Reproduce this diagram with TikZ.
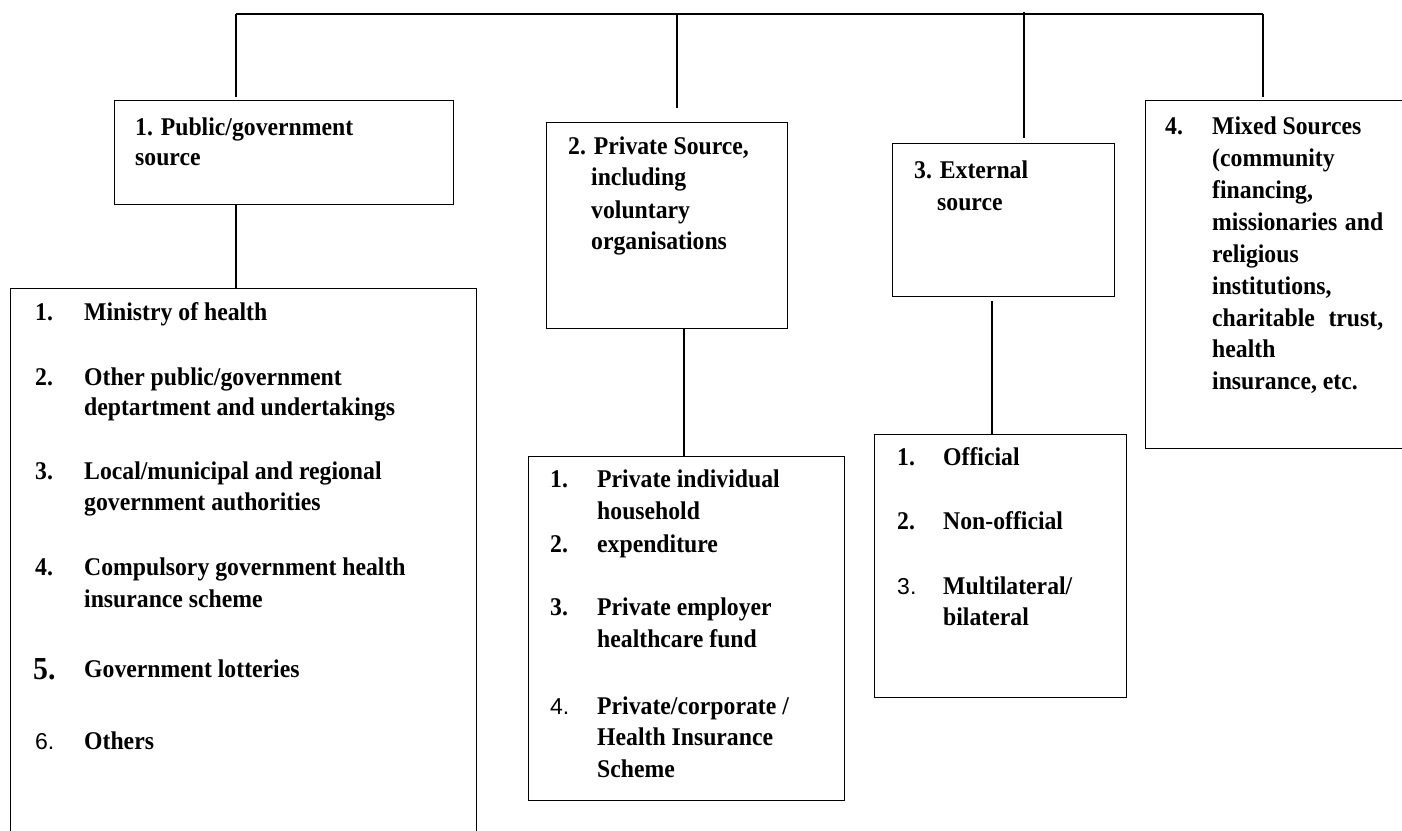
\documentclass[tikz,border=0pt]{standalone}
\usepackage{fontspec}
\setmainfont{Liberation Serif}
\newfontfamily\dfont{Liberation Serif Bold}[FakeStretch=0.93]
\newfontfamily\dsans{Liberation Sans}
\newcommand{\mytext}[4]{\node[lab] (#1) at (#2,#3) {#4};}
\begin{document}
\begin{tikzpicture}[x=1pt,y=-1pt,
  box/.style={draw, line width=1.3pt, rectangle, inner sep=0pt, anchor=north west},
  lab/.style={anchor=base west, inner sep=0pt, font=\dfont\fontsize{25.5}{30}\selectfont},
  wire/.style={line width=1.3pt}]
\useasboundingbox (0,0) rectangle (1402,830);
% boxes
\node[box, minimum width=339pt, minimum height=104pt] (p1) at (114,100) {};
\node[box, minimum width=466pt, minimum height=560pt] (q1) at (10,288) {};
\node[box, minimum width=241pt, minimum height=206pt] (p2) at (546,122) {};
\node[box, minimum width=316pt, minimum height=344pt] (q2) at (528,456) {};
\node[box, minimum width=222pt, minimum height=153pt] (p3) at (892,143) {};
\node[box, minimum width=252pt, minimum height=263pt] (q3) at (874,434) {};
\node[box, minimum width=280pt, minimum height=348pt] (p4) at (1145,100) {};
% connectors
\coordinate (c1) at (236,14);
\coordinate (c2) at (677,14);
\coordinate (c3) at (1024,12);
\coordinate (c4) at (1263,14);
\coordinate (d2) at (684,0);
\coordinate (d3) at (992,0);
\draw[wire] (c1) -- (c4);
\draw[wire, shorten >=3pt] (c1) -- (c1 |- p1.north);
\draw[wire, shorten >=14pt] (c2) -- (c2 |- p2.north);
\draw[wire, shorten >=5pt] (c3) -- (c3 |- p3.north);
\draw[wire, shorten >=3pt] (c4) -- (c4 |- p4.north);
\draw[wire] (p1.south -| c1) -- (q1.north -| c1);
\draw[wire] (p2.south -| d2) -- (q2.north -| d2);
\draw[wire, shorten <=4pt] (p3.south -| d3) -- (q3.north -| d3);
% box 1
\mytext{a1}{135}{135}{1. Public/government}
\mytext{a2}{135}{165}{source}
% box 2
\mytext{b1}{568}{154}{2. Private Source,}
\mytext{b2}{591}{185}{including}
\mytext{b3}{591}{218}{voluntary}
\mytext{b4}{591}{249}{organisations}
% box 3
\mytext{e1}{914}{178}{3. External}
\mytext{e2}{937}{210}{source}
% box 4
\mytext{m0}{1165}{134}{4.}
\mytext{m1}{1212}{134}{Mixed Sources}
\mytext{m2}{1212}{166}{(community}
\mytext{m3}{1212}{198}{financing,}
\mytext{m4}{1212}{230}{\makebox[171pt][s]{missionaries and}}
\mytext{m5}{1212}{262}{religious}
\mytext{m6}{1212}{294}{institutions,}
\mytext{m7}{1212}{326}{\makebox[171pt][s]{charitable trust,}}
\mytext{m8}{1212}{357}{health}
\mytext{m9}{1212}{389}{insurance, etc.}
% left list
\mytext{g1n}{35}{320}{1.}
\mytext{g1}{84}{320}{Ministry of health}
\mytext{g2n}{35}{385}{2.}
\mytext{g2}{84}{385}{Other public/government}
\mytext{g2b}{84}{415}{deptartment and undertakings}
\mytext{g3n}{35}{479}{3.}
\mytext{g3}{84}{479}{Local/municipal and regional}
\mytext{g3b}{84}{510}{government authorities}
\mytext{g4n}{35}{575}{4.}
\mytext{g4}{84}{575}{Compulsory government health}
\mytext{g4b}{84}{607}{insurance scheme}
\node[lab, font=\dfont\fontsize{32}{36}\selectfont] (g5n) at (33,679) {5.};
\mytext{g5}{84}{677}{Government lotteries}
\node[lab, font=\dsans\fontsize{23}{28}\selectfont] (g6n) at (35,749) {6.};
\mytext{g6}{84}{749}{Others}
% private list
\mytext{h1n}{550}{487}{1.}
\mytext{h1}{597}{487}{Private individual}
\mytext{h1b}{597}{519}{household}
\mytext{h2n}{550}{552}{2.}
\mytext{h2}{597}{552}{expenditure}
\mytext{h3n}{550}{615}{3.}
\mytext{h3}{597}{615}{Private employer}
\mytext{h3b}{597}{647}{healthcare fund}
\node[lab, font=\dsans\fontsize{23}{28}\selectfont] (h4n) at (550,714) {4.};
\mytext{h4}{597}{714}{Private/corporate /}
\mytext{h4b}{597}{745}{Health Insurance}
\mytext{h4c}{597}{777}{Scheme}
% external list
\mytext{k1n}{897}{465}{1.}
\mytext{k1}{943}{465}{Official}
\mytext{k2n}{897}{529}{2.}
\mytext{k2}{943}{529}{Non-official}
\node[lab, font=\dsans\fontsize{23}{28}\selectfont] (k3n) at (897,594) {3.};
\mytext{k3}{943}{594}{Multilateral/}
\mytext{k3b}{943}{625}{bilateral}
\end{tikzpicture}
\end{document}
